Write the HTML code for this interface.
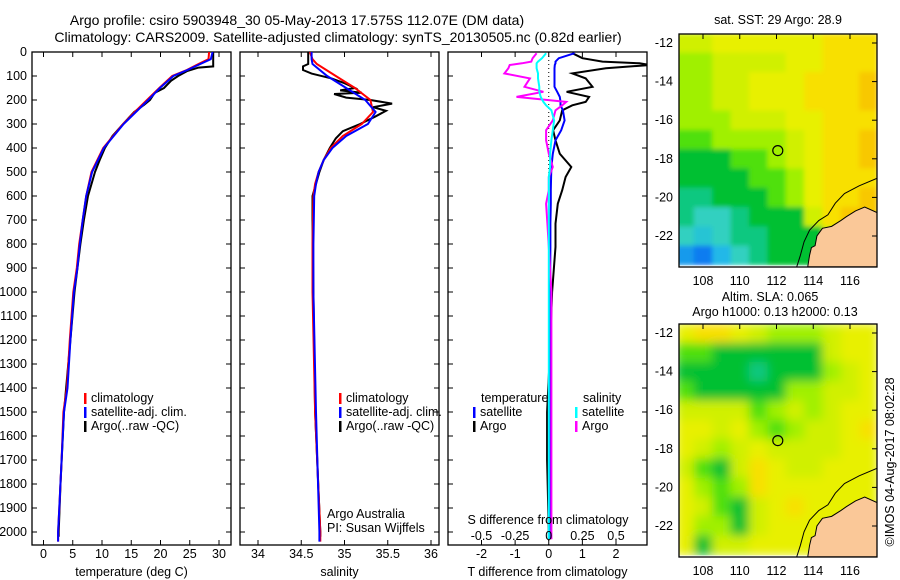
<!DOCTYPE html>
<html><head><meta charset="utf-8"><style>
body{margin:0;background:#fff;}
svg{display:block;font-family:"Liberation Sans",sans-serif;font-size:12.5px;}
</style></head><body>
<svg id="chart" width="900" height="580" viewBox="0 0 900 580">
<defs>
<filter id="sm" x="0" y="0" width="1" height="1"><feGaussianBlur stdDeviation="5" edgeMode="duplicate"/></filter>
<filter id="sm2" x="0" y="0" width="1" height="1"><feGaussianBlur stdDeviation="2.5" edgeMode="duplicate"/></filter>
<clipPath id="c1"><rect x="679" y="34" width="198" height="233"/></clipPath>
<clipPath id="c2"><rect x="679" y="324" width="198" height="233"/></clipPath>
<clipPath id="cp1"><rect x="32" y="52" width="199" height="493"/></clipPath>
<clipPath id="cp2"><rect x="240" y="52" width="199" height="493"/></clipPath>
<clipPath id="cp3"><rect x="448" y="52" width="199" height="493"/></clipPath>
</defs>
<text x="297" y="25" text-anchor="middle" font-size="14">Argo profile: csiro 5903948_30 05-May-2013 17.575S 112.07E (DM data)</text>
<text x="338" y="42" text-anchor="middle" font-size="14">Climatology: CARS2009. Satellite-adjusted climatology: synTS_20130505.nc (0.82d earlier)</text>
<g id="g1"></g>
<g id="g2"></g>
<g id="g3"></g>
<g id="m1"></g>
<g id="m2"></g>
<text x="778" y="24" text-anchor="middle">sat. SST: 29 Argo: 28.9</text>
<text x="770" y="301" text-anchor="middle">Altim. SLA: 0.065</text>
<text x="775" y="316" text-anchor="middle">Argo h1000: 0.13 h2000: 0.13</text>
<text transform="translate(894,462) rotate(-90)" text-anchor="middle">©IMOS 04-Aug-2017 08:02:28</text>
</svg>
<script>
// ---- data ----
const depthT=[0,30,50,75,100,150,200,250,300,400,500,600,700,800,900,1000,1200,1400,1500,1700,1900,2000,2040];
const tempClim=[28.3,28.2,26.5,24.5,22.0,19.8,17.7,15.6,13.6,10.2,8.2,7.3,6.7,6.1,5.7,5.1,4.5,4.0,3.4,3.1,2.7,2.5,2.5];
const tempSat=[28.9,28.6,26.8,24.6,22.2,19.9,17.9,15.8,13.7,10.3,8.3,7.3,6.7,6.2,5.8,5.2,4.6,4.1,3.5,3.1,2.7,2.5,2.5];
const depthTA=[0,20,40,60,65,80,100,120,150,170,200,220,250,300,350,400,450,500,600,700,800,1000,1200,1500,1800,2000,2020];
const tempArgo=[29.0,29.0,29.0,29.0,26.5,24.5,23.0,21.8,20.6,19.0,18.2,17.2,15.5,13.6,11.8,10.5,9.6,8.8,7.6,6.9,6.3,5.3,4.6,3.5,2.9,2.6,2.6];
const depthS=[0,30,50,100,150,200,250,300,350,400,450,500,550,600,800,1000,1500,2000,2040];
const salClim=[34.60,34.63,34.68,34.90,35.12,35.30,35.33,35.20,34.98,34.84,34.76,34.70,34.66,34.64,34.63,34.63,34.66,34.72,34.72];
const salSat=[34.62,34.62,34.63,34.80,35.02,35.24,35.36,35.27,35.02,34.86,34.76,34.70,34.67,34.65,34.64,34.64,34.67,34.71,34.71];
const depthSA=[0,30,50,60,75,90,110,130,150,160,170,175,190,200,215,230,245,270,300,330,360,400,450,500,600,700,1000,1500,2000,2020];
const salArgo=[34.58,34.58,34.58,34.52,34.52,34.62,34.85,35.00,35.12,34.95,35.20,34.88,35.02,35.30,35.55,35.33,35.48,35.35,35.18,34.98,34.90,34.83,34.76,34.71,34.63,34.63,34.64,34.66,34.72,34.72];
const depthD=[5,26,40,47,54,68,89,110,145,166,187,208,222,243,285,326,368,424,479,521,576,632,715,812,1000,1300,1500,1700,2000,2030];
const tDiffArgo=[0.7,1.0,1.6,2.7,3.0,1.7,0.7,1.1,1.3,0.53,1.2,1.1,0.7,0.4,0.33,0.13,0.2,0.33,0.67,0.5,0.4,0.27,0.2,0.2,0.1,0.02,-0.05,-0.05,0.0,0.0];
const tDiffSat=[0.77,0.3,0.2,0.2,0.18,0.17,0.17,0.17,0.17,0.25,0.33,0.35,0.35,0.42,0.47,0.37,0.2,0.12,0.08,0.07,0.06,0.06,0.05,0.05,0.04,0.03,0.03,0.03,0.02,0.02];
const sDiffArgo=[-0.09,-0.12,-0.13,-0.2,-0.29,-0.3,-0.33,-0.14,-0.18,-0.04,-0.24,0.13,0.1,0.05,0.03,-0.02,-0.02,0.0,0.03,0.0,0.0,-0.02,-0.01,0.0,0.02,0.02,0.02,0.02,0.02,0.02];
const sDiffSat=[-0.02,-0.05,-0.08,-0.09,-0.09,-0.09,-0.08,-0.08,-0.07,-0.07,-0.06,-0.04,-0.02,0.02,0.04,0.03,0.02,0.01,0.01,0.0,0.0,0.0,0.0,0.0,0.0,0.0,0.0,0.0,0.0,0.0];
const depthTicks=[0,100,200,300,400,500,600,700,800,900,1000,1100,1200,1300,1400,1500,1600,1700,1800,1900,2000];
const tempTicks=[0,5,10,15,20,25,30];
const salTicks=[34,34.5,35,35.5,36];
const tdTicks=[-2,-1,0,1,2];
const sdTicks=[-0.5,-0.25,0,0.25,0.5];
const latTicks=[12,14,16,18,20,22];
const lonTicks=[108,110,112,114,116];
const lats=[12,13,14,15,16,17,18,19,20,21,22,23];
const lons=[107,108,109,110,111,112,113,114,115,116,117];
const sst=[
[7,7,8,8,8,8,8,8,9,9,9],
[6,6,7,7,7,7,8,8,9,9,9],
[6,6,7,7,8,8,8,9,9,9,10],
[6,6,7,7,8,8,8,9,9,9,10],
[6,6,6,7,7,7,8,8,9,9,9],
[5,5,6,6,6,6,7,8,9,9,10],
[4,4,4,5,5,6,7,8,9,9,10],
[4,4,4,4,5,5,6,8,9,9,9],
[3,3,4,4,4,5,6,8,9,9,10],
[3,2,2,3,4,4,4,7,9,10,10],
[2,1.5,2,3,3,4,4,4,7,9,9],
[0.5,0,1,2,3,4,4,4,7,9,9]];
const sla=[
[8,9,9,8,7,6,6,6,7,8,8],
[5,5,4,4,4,4,4,4,7,8,8],
[4,4,4,4,3,4,4,4,6,7,8],
[5,4,4,4,4,4,6,6,7,7,8],
[7,7,7,7,5,6,7,6,7,8,8],
[8,8,7,8,6,5,6,7,7,8,9],
[8,7,6,7,8,7,7,7,7,8,8],
[7,5,4,7,9,8,7,7,8,8,8],
[8,6,5,6,9,8,8,8,8,8,8],
[8,7,5,4,7,8,9,8,8,8,8],
[8,6,6,4,7,8,8,8,8,8,8],
[8,4,7,7,8,8,8,8,8,8,8]];
const coastLon=[117.5,116.8,116.3,115.8,115.5,115.0,114.5,114.2,114.1,113.9,113.8,113.7,117.5];
const coastLat=[20.8,20.5,20.7,21.0,21.2,21.5,21.6,22.0,22.5,22.6,23.0,23.6,23.6];
const shelfLon=[117.5,116.5,115.7,115.2,114.8,114.3,113.8,113.5,113.3,113.1];
const shelfLat=[19.0,19.4,19.8,20.3,20.9,21.2,21.7,22.3,23.0,23.6];
const floatLon=112.07, floatLat=17.575;

// ---- helpers ----
const NS='http://www.w3.org/2000/svg';
function mk(parent,tag,attrs,txt){const e=document.createElementNS(NS,tag);for(const k in attrs)e.setAttribute(k,attrs[k]);if(txt!==undefined)e.textContent=txt;parent.appendChild(e);return e;}
const yD=d=>52+d*0.24;
function lin(d0,d1,r0,r1){return v=>r0+(v-d0)*(r1-r0)/(d1-d0);}

function panel(g,x0,w,xs,ticks,fmt,title,showY){
  const fr=mk(g,'rect',{x:x0,y:52,width:w,height:493,fill:'none',stroke:'#000','stroke-width':1.3});
  
  
  depthTicks.forEach(d=>{const y=yD(d);
    mk(g,'line',{x1:x0,x2:x0+5,y1:y,y2:y,stroke:'#000'});
    mk(g,'line',{x1:x0+w-5,x2:x0+w,y1:y,y2:y,stroke:'#000'});
    if(showY){const t=mk(g,'text',{x:27,y:y+4,'text-anchor':'end'},d);
      
      }
  });
  ticks.forEach(v=>{const x=xs(v);
    mk(g,'line',{x1:x,x2:x,y1:52,y2:57,stroke:'#000'});
    mk(g,'line',{x1:x,x2:x,y1:540,y2:545,stroke:'#000'});
    const t=mk(g,'text',{x:x,y:558,'text-anchor':'middle'},fmt(v));
    
    
  });
  const tt=mk(g,'text',{x:x0+w/2,y:576,'text-anchor':'middle'},title);
  
  
}
function series(g,xs,ds,vs,color,name,clip){
  const pts=ds.map((d,i)=>xs(vs[i]).toFixed(1)+','+yD(d).toFixed(1)).join(' ');
  const p=mk(g,'polyline',{points:pts,fill:'none',stroke:color,'stroke-width':2,'clip-path':'url(#'+clip+')'});
  
  
}
function legend(g,x,y,color,label,name){
  mk(g,'rect',{x:x,y:y-9,width:2.5,height:11,fill:color});
  const t=mk(g,'text',{x:x+7,y:y},label);
  
  
}

// panel 1 temperature
const g1=document.getElementById('g1');
const xT=lin(0,30,43.5,219);
panel(g1,32,199,xT,tempTicks,v=>v,'temperature (deg C)',true);
series(g1,xT,depthTA,tempArgo,'#000','temp-argo-line','cp1');
series(g1,xT,depthT,tempClim,'#f00','temp-climatology-line','cp1');
series(g1,xT,depthT,tempSat,'#00f','temp-satellite-line','cp1');
legend(g1,84,402,'#f00','climatology','legend-climatology');
legend(g1,84,416,'#00f','satellite-adj. clim.','legend-satellite');
legend(g1,84,430,'#000','Argo(..raw -QC)','legend-argo');

// panel 2 salinity
const g2=document.getElementById('g2');
const xS=lin(34,36,258,431);
panel(g2,240,199,xS,salTicks,v=>v,'salinity',false);
series(g2,xS,depthSA,salArgo,'#000','sal-argo-line','cp2');
series(g2,xS,depthS,salClim,'#f00','sal-climatology-line','cp2');
series(g2,xS,depthS,salSat,'#00f','sal-satellite-line','cp2');
legend(g2,339,402,'#f00','climatology','legend-climatology');
legend(g2,339,416,'#00f','satellite-adj. clim.','legend-satellite');
legend(g2,339,430,'#000','Argo(..raw -QC)','legend-argo');
[['Argo Australia',518],['PI: Susan Wijffels',532]].forEach(a=>{const t=mk(g2,'text',{x:327,y:a[1]},a[0]);
  
  });

// panel 3 differences
const g3=document.getElementById('g3');
const xTD=lin(-2,2,481.5,616);
const xSD=v=>xTD(v*4);
panel(g3,448,199,xTD,tdTicks,v=>v,'T difference from climatology',false);
mk(g3,'line',{x1:xTD(0),x2:xTD(0),y1:52,y2:545,stroke:'#000','stroke-dasharray':'1,3'});
series(g3,xTD,depthD,tDiffArgo,'#000','tdiff-argo-line','cp3');
series(g3,xTD,depthD,tDiffSat,'#00f','tdiff-satellite-line','cp3');
series(g3,xSD,depthD,sDiffArgo,'#f0f','sdiff-argo-line','cp3');
series(g3,xSD,depthD,sDiffSat,'#0ff','sdiff-satellite-line','cp3');
sdTicks.forEach(v=>{const t=mk(g3,'text',{x:xSD(v),y:540,'text-anchor':'middle'},v);
  
  });
const sdt=mk(g3,'text',{x:548,y:524,'text-anchor':'middle'},'S difference from climatology');


[['temperature',481,402],['salinity',583,402]].forEach(a=>{const t=mk(g3,'text',{x:a[1],y:a[2]},a[0]);
  
  });
legend(g3,473,416,'#00f','satellite','legend-t-satellite');
legend(g3,473,430,'#000','Argo','legend-t-argo');
legend(g3,575,416,'#0ff','satellite','legend-s-satellite');
legend(g3,575,430,'#f0f','Argo','legend-s-argo');

// maps
const cstops=[[0,[10,124,240]],[1,[32,184,232]],[2,[48,208,192]],[3,[16,200,128]],[4,[0,192,48]],[5,[80,224,16]],[6,[160,240,0]],[7,[208,240,0]],[8,[232,240,0]],[9,[248,224,0]],[10,[248,200,0]]];
function cmap(v){for(let i=1;i<cstops.length;i++){if(v<=cstops[i][0]){const a=cstops[i-1],b=cstops[i],f=(v-a[0])/(b[0]-a[0]);return 'rgb('+a[1].map((c,k)=>Math.round(c+(b[1][k]-c)*f)).join(',')+')';}}return 'rgb(248,200,0)';}
function drawMap(id,y0,grid,clip,filt){
  const g=document.getElementById(id);
  const X=lin(108,116,703,850), Y=lin(12,22,y0+9,y0+202);
  const cells=mk(g,'g',{'clip-path':'url(#'+clip+')'});
  const inner=mk(cells,'g',{filter:'url(#'+filt+')'});
  lats.forEach((la,r)=>lons.forEach((lo,c)=>{
    const x1=X(lo-0.5),x2=X(lo+0.5),y1=Y(la-0.5),y2=Y(la+0.5);
    const rc=mk(inner,'rect',{x:x1,y:y1,width:x2-x1+0.5,height:y2-y1+0.5,fill:cmap(grid[r][c])});
    
    
  }));
  const land=mk(cells,'polygon',{points:coastLon.map((lo,i)=>X(lo)+','+Y(coastLat[i])).join(' '),fill:'#fac898',stroke:'#000','stroke-width':1});
  
  
  const sh=mk(cells,'polyline',{points:shelfLon.map((lo,i)=>X(lo)+','+Y(shelfLat[i])).join(' '),fill:'none',stroke:'#000','stroke-width':1});
  
  
  const ci=mk(g,'circle',{cx:X(floatLon),cy:Y(floatLat),r:5,fill:'none',stroke:'#000','stroke-width':1.2});
  
  
  mk(g,'rect',{x:679,y:y0,width:198,height:233,fill:'none',stroke:'#000','stroke-width':1.3});
  latTicks.forEach(la=>{const y=Y(la);
    mk(g,'line',{x1:872,x2:877,y1:y,y2:y,stroke:'#000'});
    const t=mk(g,'text',{x:673,y:y+4,'text-anchor':'end'},'-'+la);
    
    });
  lonTicks.forEach(lo=>{const x=X(lo);
    mk(g,'line',{x1:x,x2:x,y1:y0,y2:y0+5,stroke:'#000'});
    const t=mk(g,'text',{x:x,y:y0+251,'text-anchor':'middle'},lo);
    
    });
}
drawMap('m1',34,sst,'c1','sm2');
drawMap('m2',324,sla,'c2','sm');
</script>
</body></html>
